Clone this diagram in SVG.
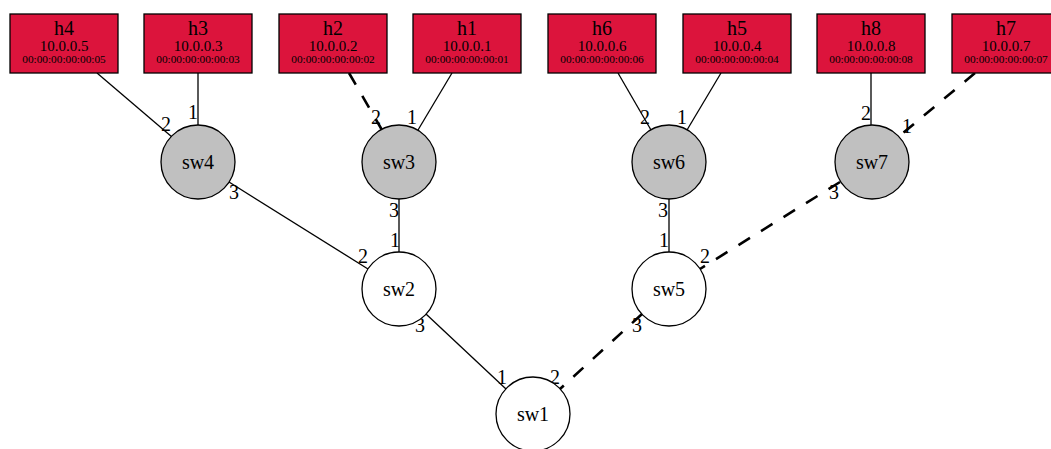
<svg xmlns="http://www.w3.org/2000/svg" width="1051" height="449" viewBox="0 0 1051 449">
  <style>
    text { font-family: "Liberation Serif", "Times New Roman", serif; fill: #000; text-anchor: middle; }
    .host rect { fill: #dc143c; stroke: #000; stroke-width: 1.3; }
    .host .name { font-size: 20px; }
    .host .ip { font-size: 15px; }
    .host .mac { font-size: 11.3px; }
    .sw circle { stroke: #000; stroke-width: 1.3; }
    .sw.edge circle { fill: #c0c0c0; }
    .sw.core circle { fill: #fff; }
    .sw text { font-size: 20px; }
    .link { stroke: #000; stroke-width: 1.3; fill: none; }
    .link.down { stroke-width: 2.6; stroke-dasharray: 13.5 13; }
    .port { font-size: 20px; }
  </style>

  <!-- links between hosts and switches -->
  <g id="connectors">
    <line class="link" x1="97" y1="73" x2="172" y2="137"/>
    <line class="link" x1="198" y1="73" x2="198" y2="125"/>
    <line class="link" x1="229" y1="182" x2="368" y2="269"/>
    <line class="link down" x1="349" y1="73" x2="382" y2="130"/>
    <line class="link" x1="452" y1="73" x2="418" y2="130"/>
    <line class="link" x1="399" y1="199" x2="399" y2="252"/>
    <line class="link" x1="618" y1="73" x2="651" y2="130"/>
    <line class="link" x1="721" y1="73" x2="687" y2="130"/>
    <line class="link" x1="669" y1="199" x2="669" y2="252"/>
    <line class="link" x1="871" y1="73" x2="871" y2="125"/>
    <line class="link down" x1="975" y1="73" x2="903" y2="133"/>
    <line class="link down" x1="840" y1="182" x2="700" y2="269"/>
    <line class="link" x1="426" y1="314" x2="506" y2="389"/>
    <line class="link down" x1="642" y1="314" x2="560" y2="389"/>

    <!-- port numbers -->
    <text class="port" x="166" y="131">2</text>
    <text class="port" x="193" y="119">1</text>
    <text class="port" x="234" y="199">3</text>
    <text class="port" x="363" y="263">2</text>
    <text class="port" x="376" y="124">2</text>
    <text class="port" x="412" y="124">1</text>
    <text class="port" x="394" y="217">3</text>
    <text class="port" x="395" y="247">1</text>
    <text class="port" x="645" y="124">2</text>
    <text class="port" x="682" y="124">1</text>
    <text class="port" x="663" y="217">3</text>
    <text class="port" x="664" y="247">1</text>
    <text class="port" x="866" y="120">2</text>
    <text class="port" x="907" y="133">1</text>
    <text class="port" x="834" y="199">3</text>
    <text class="port" x="705" y="263">2</text>
    <text class="port" x="420" y="332">3</text>
    <text class="port" x="502" y="384">1</text>
    <text class="port" x="555" y="384">2</text>
    <text class="port" x="637" y="332">3</text>
  </g>

  <!-- hosts -->
  <g id="h4" class="host">
    <rect x="10" y="14" width="108" height="59"/>
    <text class="name" x="64" y="35">h4</text>
    <text class="ip" x="64" y="51">10.0.0.5</text>
    <text class="mac" x="64" y="63">00:00:00:00:00:05</text>
  </g>
  <g id="h3" class="host">
    <rect x="144" y="14" width="108" height="59"/>
    <text class="name" x="198" y="35">h3</text>
    <text class="ip" x="198" y="51">10.0.0.3</text>
    <text class="mac" x="198" y="63">00:00:00:00:00:03</text>
  </g>
  <g id="h2" class="host">
    <rect x="279" y="14" width="108" height="59"/>
    <text class="name" x="333" y="35">h2</text>
    <text class="ip" x="333" y="51">10.0.0.2</text>
    <text class="mac" x="333" y="63">00:00:00:00:00:02</text>
  </g>
  <g id="h1" class="host">
    <rect x="413" y="14" width="108" height="59"/>
    <text class="name" x="467" y="35">h1</text>
    <text class="ip" x="467" y="51">10.0.0.1</text>
    <text class="mac" x="467" y="63">00:00:00:00:00:01</text>
  </g>
  <g id="h6" class="host">
    <rect x="548" y="14" width="108" height="59"/>
    <text class="name" x="602" y="35">h6</text>
    <text class="ip" x="602" y="51">10.0.0.6</text>
    <text class="mac" x="602" y="63">00:00:00:00:00:06</text>
  </g>
  <g id="h5" class="host">
    <rect x="683" y="14" width="108" height="59"/>
    <text class="name" x="737" y="35">h5</text>
    <text class="ip" x="737" y="51">10.0.0.4</text>
    <text class="mac" x="737" y="63">00:00:00:00:00:04</text>
  </g>
  <g id="h8" class="host">
    <rect x="817" y="14" width="108" height="59"/>
    <text class="name" x="871" y="35">h8</text>
    <text class="ip" x="871" y="51">10.0.0.8</text>
    <text class="mac" x="871" y="63">00:00:00:00:00:08</text>
  </g>
  <g id="h7" class="host">
    <rect x="952" y="14" width="108" height="59"/>
    <text class="name" x="1006" y="35">h7</text>
    <text class="ip" x="1006" y="51">10.0.0.7</text>
    <text class="mac" x="1006" y="63">00:00:00:00:00:07</text>
  </g>

  <!-- edge switches -->
  <g id="sw4" class="sw edge">
    <circle cx="198" cy="162" r="37"/>
    <text x="198" y="169">sw4</text>
  </g>
  <g id="sw3" class="sw edge">
    <circle cx="399" cy="162" r="37"/>
    <text x="399" y="169">sw3</text>
  </g>
  <g id="sw6" class="sw edge">
    <circle cx="669" cy="162" r="37"/>
    <text x="669" y="169">sw6</text>
  </g>
  <g id="sw7" class="sw edge">
    <circle cx="872" cy="162" r="37"/>
    <text x="872" y="169">sw7</text>
  </g>

  <!-- aggregation and core switches -->
  <g id="sw2" class="sw core">
    <circle cx="399" cy="289" r="37"/>
    <text x="399" y="296">sw2</text>
  </g>
  <g id="sw5" class="sw core">
    <circle cx="669" cy="289" r="37"/>
    <text x="669" y="296">sw5</text>
  </g>
  <g id="sw1" class="sw core">
    <circle cx="533" cy="414" r="37"/>
    <text x="533" y="421">sw1</text>
  </g>
</svg>
